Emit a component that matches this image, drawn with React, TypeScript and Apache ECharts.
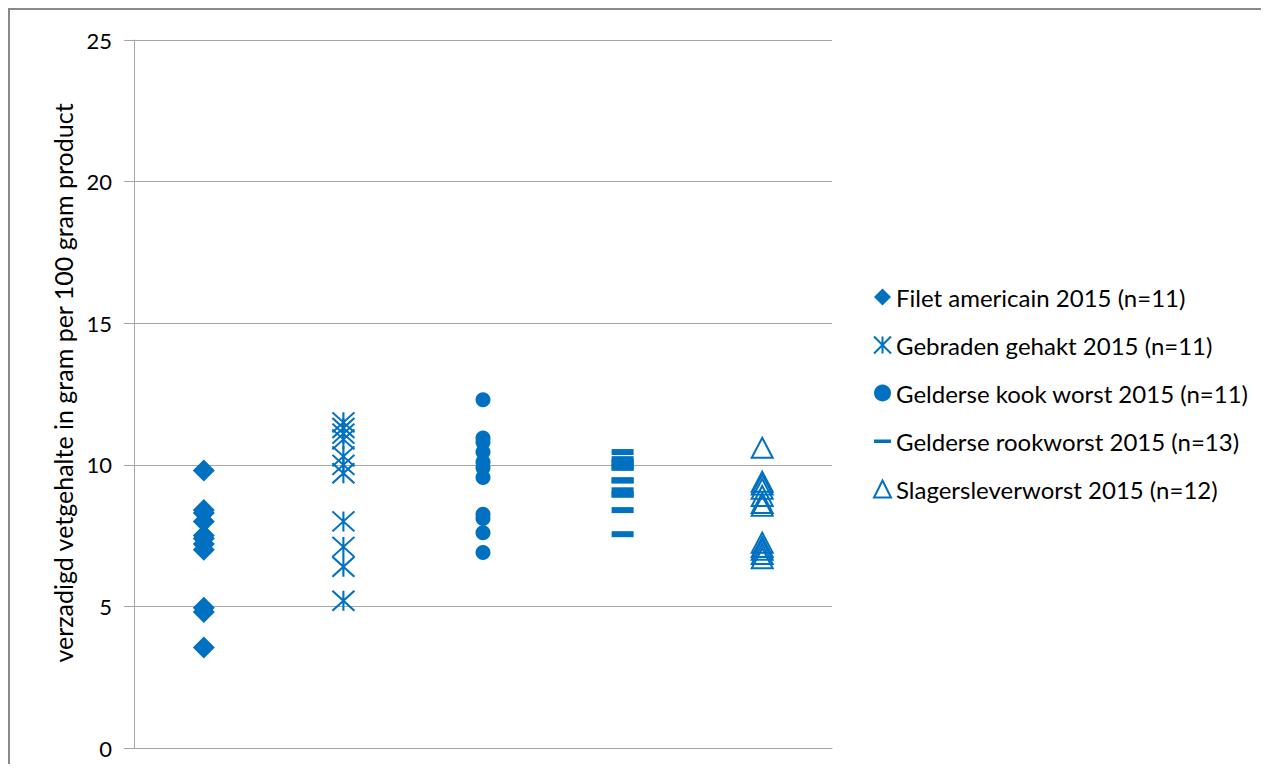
import { useEffect, useRef } from 'react';
import * as echarts from 'echarts';

const seriesNames = [
  'Filet americain 2015 (n=11)',
  'Gebraden gehakt 2015 (n=11)',
  'Gelderse kook worst 2015 (n=11)',
  'Gelderse rookworst 2015 (n=13)',
  'Slagersleverworst 2015 (n=12)',
];
const categories = ['Filet americain', 'Gebraden gehakt', 'Gelderse kookworst', 'Gelderse rookworst', 'Slagersleverworst'];
const yTicks = { min: 0, max: 25, interval: 5 };
const yAxisTitle = 'verzadigd vetgehalte in gram per 100 gram product';

const filetAmericain = [9.8, 8.4, 8.3, 8.0, 7.5, 7.4, 7.2, 7.0, 4.95, 4.8, 3.55];
const gebradenGehakt = [11.5, 11.3, 11.1, 10.9, 10.3, 10.0, 9.7, 8.0, 7.1, 6.4, 5.2];
const geldKookworst = [12.3, 10.95, 10.8, 10.45, 10.1, 9.9, 9.55, 8.25, 8.1, 7.6, 6.9];
const geldRookworst = [10.45, 10.2, 10.1, 10.05, 9.9, 9.9, 9.45, 9.45, 9.1, 8.95, 8.95, 8.4, 7.55];
const slagersleverworst = [10.6, 9.4, 9.3, 9.15, 8.9, 8.65, 8.55, 7.25, 7.1, 7.0, 6.85, 6.7];

const BLUE = '#0070C0';
const FONT = 'Lato';
const ASTERISK = 'path://M10,0L10,20M0,0L20,20M0,20L20,0';
const DASH_ICON = 'path://M0,0M17,17M0,7L17,7L17,10.5L0,10.5Z';

export default function App() {
  const ref = useRef<HTMLDivElement>(null);
  useEffect(() => {
    if (!ref.current) return;
    const chart = echarts.init(ref.current, null, { renderer: 'svg' });
    const values = [filetAmericain, gebradenGehakt, geldKookworst, geldRookworst, slagersleverworst];
    const symbols: any[] = [
      { symbol: 'diamond', symbolSize: 22, itemStyle: { color: BLUE, opacity: 1 } },
      { symbol: ASTERISK, symbolSize: [22, 20], itemStyle: { color: 'rgba(0,0,0,0)', borderColor: BLUE, borderWidth: 2, opacity: 1 } },
      { symbol: 'circle', symbolSize: 15, itemStyle: { color: BLUE, opacity: 1 } },
      { symbol: 'rect', symbolSize: [22, 6], itemStyle: { color: BLUE, opacity: 1 } },
      { symbol: 'triangle', symbolSize: [21, 20], itemStyle: { color: 'rgba(0,0,0,0)', borderColor: BLUE, borderWidth: 2, opacity: 1 } },
    ];
    const legendIcons = ['diamond', ASTERISK, 'circle', DASH_ICON, 'triangle'];
    chart.setOption({
      animation: false,
      backgroundColor: '#fff',
      textStyle: { fontFamily: FONT },
      grid: { left: 124, top: 30, width: 698, height: 708 },
      xAxis: {
        type: 'category',
        data: categories,
        boundaryGap: true,
        axisLine: { show: true, lineStyle: { color: '#a6a6a6', width: 1 } },
        axisTick: { show: false },
        axisLabel: { show: false },
        splitLine: { show: false },
      },
      yAxis: {
        type: 'value',
        min: yTicks.min,
        max: yTicks.max,
        interval: yTicks.interval,
        axisLine: { show: true, lineStyle: { color: '#a6a6a6', width: 1 } },
        axisTick: { show: true, length: 10, lineStyle: { color: '#a6a6a6' } },
        axisLabel: { fontSize: 22, color: '#000', margin: 22, fontFamily: FONT },
        splitLine: { show: true, lineStyle: { color: '#a6a6a6', width: 1 } },
      },
      legend: {
        orient: 'vertical',
        left: 858,
        top: 269,
        itemWidth: 17,
        itemHeight: 17,
        itemGap: 22,
        textStyle: { fontSize: 24, color: '#000', fontFamily: FONT, lineHeight: 26 },
        data: seriesNames.map((n, i) => ({ name: n, icon: legendIcons[i] })),
      },
      graphic: [
        {
          type: 'text',
          x: 53,
          y: 373,
          rotation: Math.PI / 2,
          style: {
            text: yAxisTitle,
            fontSize: 25,
            fontFamily: FONT,
            fill: '#000',
            align: 'center',
            verticalAlign: 'middle',
          },
        },
      ],
      series: values.map((arr, i) => ({
        type: 'scatter',
        name: seriesNames[i],
        data: arr.map((v) => [i, v]),
        ...symbols[i],
      })),
    });
    return () => chart.dispose();
  }, []);
  return (
    <div
      style={{
        width: 1259,
        height: 754,
        borderLeft: '2px solid #898989',
        borderTop: '2px solid #898989',
      }}
    >
      <div ref={ref} style={{ width: 1259, height: 754 }} />
    </div>
  );
}
